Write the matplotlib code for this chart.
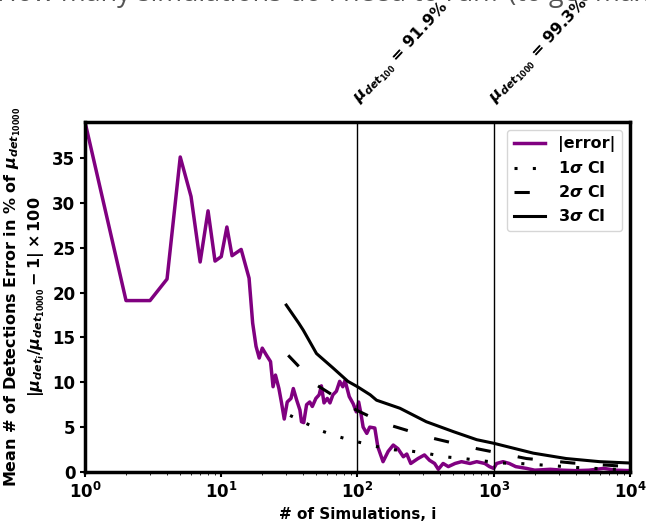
import matplotlib
matplotlib.use("Agg")
import matplotlib.pyplot as plt
from matplotlib import rcParams
import numpy as np

rcParams['font.family'] = 'DejaVu Sans'
rcParams['font.weight'] = 'bold'
rcParams['mathtext.fontset'] = 'custom'
rcParams['mathtext.rm'] = 'DejaVu Sans:bold'
rcParams['mathtext.it'] = 'DejaVu Sans:bold:italic'
rcParams['mathtext.bf'] = 'DejaVu Sans:bold'

# |error| curve
n_err = [1, 2, 3, 4, 5, 6, 7, 8, 9, 10, 11, 12, 14, 16, 17, 18, 19, 20, 21.5, 23,
         24, 25, 26.5, 27.7, 29, 30.5, 32.5, 33.8, 35.8, 37.8, 38.8, 40.3, 42.3,
         44.6, 46.6, 49.5, 52.3, 54.3, 56.8, 60, 62.8, 66, 70, 74, 78, 81, 87, 93,
         98, 102, 106, 110, 117, 123, 134, 141, 154, 168, 183, 198, 217, 230, 246,
         278, 310, 338, 368, 392, 425, 464, 520, 580, 670, 750, 860, 930, 1000,
         1050, 1170, 1300, 1450, 1740, 2000, 2600, 3200, 4000, 5000, 6400, 7900,
         10000]
err = [39.0, 19.1, 19.1, 21.5, 35.1, 30.7, 23.4, 29.1, 23.5, 24.0, 27.3, 24.1,
       24.8, 21.6, 16.6, 14.0, 12.7, 13.8, 13.0, 12.3, 9.5, 10.8, 9.3, 7.7, 5.9,
       7.8, 8.2, 9.3, 8.0, 6.9, 5.6, 5.5, 7.5, 7.8, 7.3, 8.2, 8.6, 9.6, 7.7, 8.2,
       7.7, 8.6, 9.0, 10.1, 9.5, 10.2, 8.4, 7.6, 6.7, 7.8, 6.5, 5.0, 4.3, 5.0,
       4.9, 2.8, 1.15, 2.3, 3.0, 2.6, 1.7, 2.0, 0.95, 1.5, 1.9, 1.3, 0.95, 0.3,
       0.95, 0.6, 0.95, 1.15, 0.95, 1.15, 0.95, 0.6, 0.4, 0.95, 1.15, 0.95, 0.6,
       0.4, 0.2, 0.3, 0.2, 0.15, 0.2, 0.4, 0.2, 0.15]

# confidence interval curves
n_3s = [30, 37, 40, 50, 66, 85, 100, 124, 138, 205, 320, 505, 750, 1000, 1950, 3400, 6000, 10000]
ci_3s = [18.6, 16.6, 15.8, 13.2, 11.6, 10.1, 9.5, 8.6, 8.0, 7.1, 5.6, 4.5, 3.6, 3.2, 2.1, 1.5, 1.15, 1.0]
n_2s = [31, 50, 98, 158, 360, 750, 1740, 3800, 8400, 10000]
ci_2s = [13.0, 9.7, 6.9, 5.4, 3.75, 2.6, 1.5, 1.0, 0.67, 0.6]
n_1s = [32, 54, 70, 94, 126, 170, 228, 318, 430, 600, 820, 1140, 1550, 2150, 2900, 4050, 5500, 7700, 10000]
ci_1s = [6.3, 4.6, 4.0, 3.45, 3.0, 2.5, 2.4, 2.1, 1.7, 1.5, 1.25, 1.0, 0.95, 0.8, 0.67, 0.5, 0.4, 0.3, 0.25]

marks = [100, 1000]
mark_labels = [r"$\mu_{det_{100}}$ = 91.9%", r"$\mu_{det_{1000}}$ = 99.3%"]

fig = plt.figure(figsize=(6.46, 5.22), dpi=100)
ax = fig.add_axes([0.1316, 0.0958, 0.8436, 0.6705])

ax.plot(n_err, err, color='purple', lw=2.5, label="|error|")
ax.plot(n_1s, ci_1s, color='black', lw=2.2, ls=(0, (1, 5)), label=r"1$\sigma$ CI")
ax.plot(n_2s, ci_2s, color='black', lw=2.2, ls=(0, (5, 9)), label=r"2$\sigma$ CI")
ax.plot(n_3s, ci_3s, color='black', lw=2.2, label=r"3$\sigma$ CI")

for m, lab in zip(marks, mark_labels):
    ax.axvline(m, color='black', lw=1)
    ax.annotate(lab, xy=(m, 39), xycoords='data', xytext=(1, 13), textcoords='offset points',
                rotation=47, rotation_mode='anchor', ha='left', va='baseline',
                fontsize=11.5, fontweight='bold', annotation_clip=False)

ax.set_xscale('log')
ax.set_xlim(1, 1e4)
ax.set_ylim(0, 39)
ax.set_yticks([0, 5, 10, 15, 20, 25, 30, 35])
ax.tick_params(labelsize=12, width=1.5)
for lbl in ax.get_xticklabels() + ax.get_yticklabels():
    lbl.set_fontweight('bold')
for sp in ax.spines.values():
    sp.set_linewidth(2.5)

ax.set_xlabel("# of Simulations, i", fontsize=11, fontweight='bold')
ax.set_ylabel("Mean # of Detections Error in % of $\\mu_{det_{10000}}$\n"
              "$|\\mu_{det_i}/\\mu_{det_{10000}} - 1| \\times 100$",
              fontsize=11.5, fontweight='bold')

leg = ax.legend(loc='upper right', prop={'size': 11.5, 'weight': 'bold'})

# slide title cut off at the top of the screenshot
fig.text(-0.005, 1 - 1.5 / 522, "How many simulations do I need to run? (to get max",
         fontsize=19.4, color='#555555', family='Open Sans', fontweight='normal',
         va='baseline', ha='left')

fig.savefig("out.png", dpi=100)
